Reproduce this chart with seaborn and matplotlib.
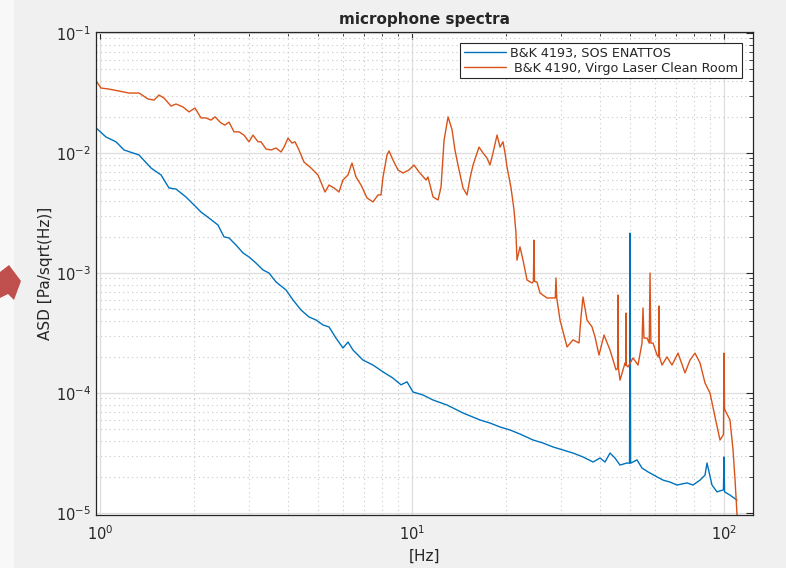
import numpy as np
import pandas as pd
import matplotlib
matplotlib.use("Agg")
import matplotlib.pyplot as plt
from matplotlib.patches import Polygon, Rectangle
from matplotlib.ticker import LogLocator, NullFormatter
import seaborn as sns

# B&K 4190 microphone, Virgo laser clean room
freq_virgo = [
    0.971, 1.007, 1.069, 1.239, 1.334, 1.425, 1.490, 1.546, 1.604, 1.689,
    1.752, 1.845, 1.929, 2.016, 2.107, 2.187, 2.269, 2.337, 2.442, 2.515,
    2.591, 2.689, 2.790, 2.894, 3.003, 3.093, 3.209, 3.281, 3.404, 3.533,
    3.666, 3.804, 3.889, 4.005, 4.125, 4.217, 4.343, 4.506, 4.746, 4.997,
    5.263, 5.420, 5.623, 5.834, 6.009, 6.235, 6.422, 6.614, 6.864, 7.174,
    7.499, 7.780, 7.955, 8.074, 8.315, 8.438, 8.692, 9.018, 9.358, 9.781,
    10.15, 10.53, 11.09, 11.25, 11.68, 12.12, 12.39, 12.67, 13.05, 13.44,
    13.73, 14.04, 14.57, 15.01, 15.35, 15.69, 16.40, 16.89, 17.39, 17.78,
    18.18, 18.73, 19.15, 19.57, 19.87, 20.16, 20.77, 21.23, 21.54, 21.70,
    22.19, 22.69, 23.37, 24.25, 24.50, 24.60, 24.70, 25.15, 25.72, 27.09,
    28.80, 28.94, 29.10, 29.81, 31.40, 32.81, 34.30, 34.81, 35.33, 36.39,
    37.76, 38.60, 39.76, 41.25, 43.12, 45.07, 45.60, 45.74, 45.90, 46.42,
    48.17, 48.40, 48.52, 48.65, 49.24, 51.09, 53.01, 54.60, 55.00, 55.40,
    56.66, 57.60, 57.93, 58.30, 59.23, 61.00, 61.70, 61.90, 62.10, 63.29,
    65.66, 68.13, 71.22, 74.99, 77.80, 80.74, 83.78, 86.93, 90.18, 93.59,
    97.10, 99.60, 100.0, 100.4, 100.7, 104.5, 106.9, 108.5, 110.1,
]
asd_virgo = [
    0.0400, 0.0348, 0.0341, 0.0316, 0.0316, 0.0282, 0.0276, 0.0304, 0.0287, 0.0246,
    0.0256, 0.0242, 0.0220, 0.0237, 0.0196, 0.0196, 0.0188, 0.0200, 0.0178, 0.0171,
    0.0181, 0.0150, 0.0150, 0.0141, 0.0124, 0.0141, 0.0124, 0.0124, 0.0108, 0.0106,
    0.0110, 0.0102, 0.0112, 0.0133, 0.0121, 0.0124, 0.0106, 0.00841, 0.00750, 0.00656,
    0.00473, 0.00541, 0.00511, 0.00473, 0.00596, 0.00656, 0.00825, 0.00631, 0.00541, 0.00422,
    0.00391, 0.00447, 0.00447, 0.00631, 0.00962, 0.0104, 0.00874, 0.00722, 0.00681, 0.00722,
    0.00794, 0.00695, 0.00596, 0.00631, 0.00430, 0.00406, 0.00521, 0.0128, 0.0200, 0.0156,
    0.0106, 0.00794, 0.00511, 0.00447, 0.00619, 0.00794, 0.0112, 0.0100, 0.00909, 0.00794,
    0.0100, 0.0141, 0.0112, 0.0124, 0.0100, 0.00765, 0.00511, 0.00335, 0.00215, 0.00128,
    0.00165, 0.00128, 0.000874, 0.000825, 0.000850, 0.00188, 0.000850, 0.000842, 0.000681, 0.000619,
    0.000620, 0.000909, 0.000620, 0.000406, 0.000242, 0.000277, 0.000261, 0.000430, 0.000631, 0.000406,
    0.000355, 0.000293, 0.000207, 0.000304, 0.000228, 0.000156, 0.000160, 0.000656, 0.000160, 0.000128,
    0.000178, 0.000170, 0.000464, 0.000170, 0.000165, 0.000196, 0.000171, 0.000261, 0.000511, 0.000287,
    0.000287, 0.000260, 0.00100, 0.000260, 0.000261, 0.000207, 0.000200, 0.000531, 0.000200, 0.000171,
    0.000200, 0.000171, 0.000215, 0.000147, 0.000188, 0.000215, 0.000178, 0.000121, 0.000100, 6.31e-5,
    4.06e-5, 4.50e-5, 0.000215, 7.22e-5, 7.22e-5, 5.96e-5, 3.35e-5, 1.88e-5, 9.62e-6,
]

# B&K 4193 microphone, SOS ENATTOS
freq_sos = [
    0.971, 1.045, 1.125, 1.194, 1.334, 1.457, 1.569, 1.664, 1.752, 1.886,
    2.031, 2.107, 2.236, 2.389, 2.497, 2.591, 2.729, 2.873, 3.003, 3.162,
    3.330, 3.481, 3.666, 3.947, 4.155, 4.408, 4.676, 4.924, 5.185, 5.420,
    5.706, 6.009, 6.235, 6.469, 6.966, 7.499, 8.074, 8.692, 9.220, 9.638,
    10.07, 10.85, 11.68, 12.95, 13.94, 14.57, 16.52, 17.78, 19.15, 20.61,
    22.19, 24.43, 26.29, 28.31, 30.48, 32.81, 35.33, 38.04, 40.05, 41.56,
    43.12, 44.74, 46.42, 48.88, 49.80, 50.00, 50.20, 52.62, 54.59, 57.08,
    61.00, 63.76, 67.13, 70.70, 76.11, 79.55, 83.78, 86.93, 88.22, 91.52,
    94.98, 99.60, 100.0, 100.4, 104.5, 110.1,
]
asd_sos = [
    0.0162, 0.0136, 0.0124, 0.0106, 0.00962, 0.00750, 0.00656, 0.00511, 0.00501, 0.00430,
    0.00355, 0.00322, 0.00287, 0.00251, 0.00200, 0.00196, 0.00171, 0.00147, 0.00136, 0.00121,
    0.00106, 0.00100, 0.000842, 0.000722, 0.000596, 0.000492, 0.000430, 0.000406, 0.000369, 0.000355,
    0.000287, 0.000237, 0.000266, 0.000228, 0.000188, 0.000171, 0.000150, 0.000133, 0.000117, 0.000124,
    0.000102, 9.62e-5, 8.74e-5, 7.94e-5, 7.22e-5, 6.81e-5, 5.96e-5, 5.62e-5, 5.21e-5, 4.92e-5,
    4.55e-5, 4.06e-5, 3.83e-5, 3.55e-5, 3.35e-5, 3.16e-5, 2.93e-5, 2.66e-5, 2.87e-5, 2.66e-5,
    3.16e-5, 2.87e-5, 2.51e-5, 2.61e-5, 2.60e-5, 0.00215, 2.60e-5, 2.77e-5, 2.37e-5, 2.20e-5,
    2.00e-5, 1.88e-5, 1.81e-5, 1.71e-5, 1.78e-5, 1.71e-5, 1.88e-5, 2.07e-5, 2.61e-5, 1.71e-5,
    1.50e-5, 1.56e-5, 2.93e-5, 1.50e-5, 1.41e-5, 1.28e-5,
]

series_labels = ["B&K 4193, SOS ENATTOS", " B&K 4190, Virgo Laser Clean Room"]
series_colors = ["#0072BD", "#D95319"]

sns.set_style("white")
plt.rcParams["font.family"] = ["DejaVu Sans"]

fig = plt.figure(figsize=(7.86, 5.68), dpi=100, facecolor="#F0F0F0")
# lighter strip at the far left edge
fig.patches.append(Rectangle((0, 0), 14 / 786, 1, transform=fig.transFigure,
                             facecolor="#F8F8F8", edgecolor="none", zorder=0))
# red pointer arrow at the left edge
arrow_px = [(0, 272), (9, 265), (21, 281), (14, 300), (8, 294), (0, 298)]
fig.patches.append(Polygon([(x / 786, 1 - y / 568) for x, y in arrow_px], closed=True,
                           transform=fig.transFigure, facecolor="#C0504D",
                           edgecolor="none", zorder=1))

ax = fig.add_axes([96 / 786, 1 - 515 / 568, (753 - 96) / 786, (515 - 32) / 568])
ax.set_facecolor("white")

df = pd.concat([
    pd.DataFrame({"f": freq_sos, "asd": asd_sos, "mic": series_labels[0]}),
    pd.DataFrame({"f": freq_virgo, "asd": asd_virgo, "mic": series_labels[1]}),
])
sns.lineplot(data=df, x="f", y="asd", hue="mic", palette=series_colors,
             estimator=None, sort=False, linewidth=1.0, ax=ax)

ax.set_xscale("log")
ax.set_yscale("log")
ax.set_xlim(10 ** (-4 / 312), 10 ** (2 + 29 / 312))
ax.set_ylim(10 ** (-5 - 2 / 120), 10 ** (-1 + 1 / 120))

ax.xaxis.set_major_locator(LogLocator(base=10, numticks=10))
ax.xaxis.set_minor_locator(LogLocator(base=10, subs=np.arange(2, 10), numticks=20))
ax.yaxis.set_major_locator(LogLocator(base=10, numticks=10))
ax.yaxis.set_minor_locator(LogLocator(base=10, subs=np.arange(2, 10), numticks=20))
ax.xaxis.set_minor_formatter(NullFormatter())
ax.yaxis.set_minor_formatter(NullFormatter())

ax.grid(which="major", color="#DEDEDE", linestyle="-", linewidth=0.9)
ax.grid(which="minor", color="#C8C8C8", linestyle=(0, (1, 3)), linewidth=0.8)
ax.set_axisbelow(True)

ax.tick_params(which="both", direction="in", top=True, right=True,
               colors="#262626", labelsize=10.5)
ax.tick_params(which="major", length=5, width=0.8)
ax.tick_params(which="minor", length=3, width=0.6)
ax.tick_params(axis="x", which="major", pad=7)
for sp in ax.spines.values():
    sp.set_color("#262626")
    sp.set_linewidth(0.9)

ax.set_title("microphone spectra", fontsize=11, fontweight="bold", pad=6)
ax.set_xlabel("[Hz]", fontsize=11, color="#262626", labelpad=4)
ax.set_ylabel("ASD [Pa/sqrt(Hz)]", fontsize=11, color="#262626", labelpad=2)

leg = ax.legend(loc="upper right", fontsize=9.2, frameon=True, fancybox=False,
                framealpha=1, edgecolor="#262626", handlelength=3.3,
                borderaxespad=0.85, borderpad=0.3, labelspacing=0.15,
                handletextpad=0.35)
leg.get_frame().set_linewidth(0.8)
for line in leg.get_lines():
    line.set_linewidth(1.0)

fig.savefig("out.png", dpi=100, facecolor=fig.get_facecolor())
